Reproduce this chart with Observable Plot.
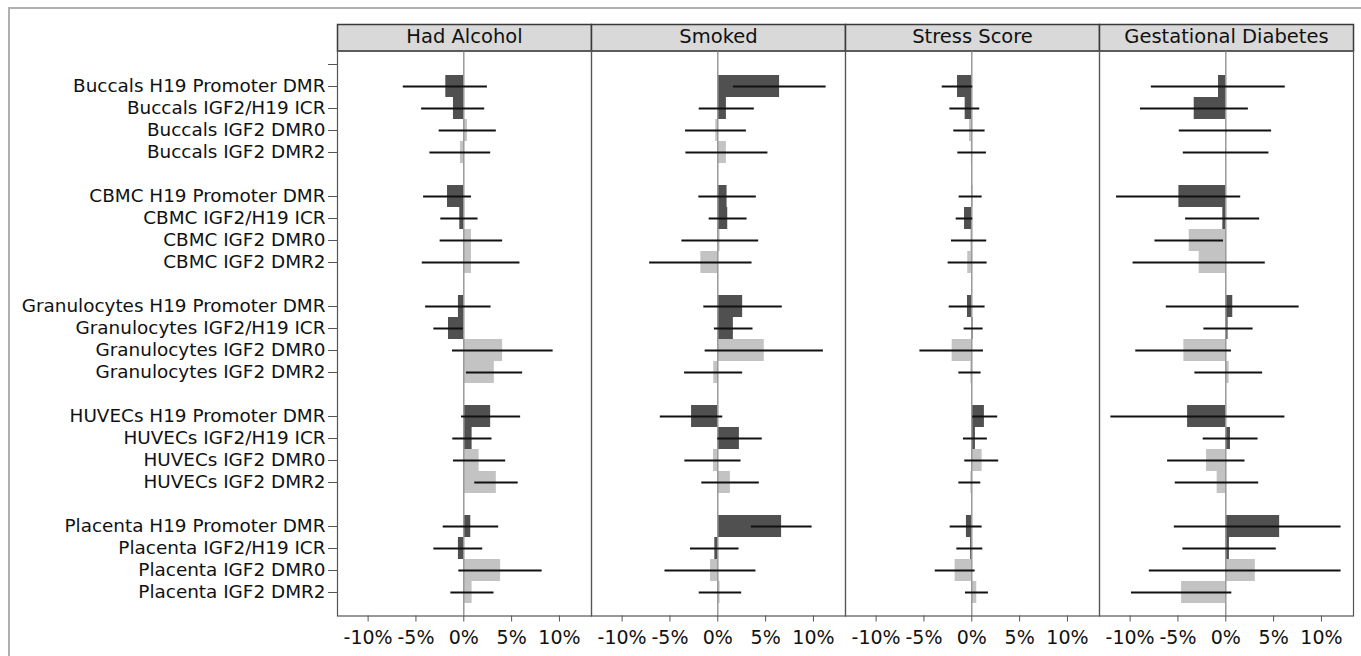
<!DOCTYPE html>
<html>
<head>
<meta charset="utf-8">
<script src="https://cdn.jsdelivr.net/npm/d3@7"></script>
<script src="https://cdn.jsdelivr.net/npm/@observablehq/plot@0.6"></script>
<style>
  html, body { margin: 0; padding: 0; background: #fff; }
  #wrap { position: relative; width: 1361px; height: 656px; overflow: hidden; }
  #border { position: absolute; left: 8px; top: 7px; right: -10px; bottom: -10px;
            border-top: 2px solid #b0b0b0; border-left: 2px solid #b0b0b0; }
  #chart { position: absolute; left: 0; top: 0; }
</style>
</head>
<body>
<div id="wrap"><div id="border"></div><div id="chart"></div></div>
<script>
// ---- data ----
const panels = ["Had Alcohol", "Smoked", "Stress Score", "Gestational Diabetes"];
const tissues = ["Buccals", "CBMC", "Granulocytes", "HUVECs", "Placenta"];
const regions = ["H19 Promoter DMR", "IGF2/H19 ICR", "IGF2 DMR0", "IGF2 DMR2"];
const darkRegions = ["H19 Promoter DMR", "IGF2/H19 ICR"];
const xTicks = [-10, -5, 0, 5, 10];

const alcoholEst = [-1.88,-1.08,0.38,-0.35, -1.70,-0.42,0.80,0.80, -0.56,-1.60,4.06,3.19, 2.81,0.87,1.60,3.40, 0.73,-0.56,3.85,0.87];
const alcoholLo  = [-6.32,-4.41,-2.57,-3.54, -4.20,-2.40,-2.47,-4.34, -3.99,-3.13,-1.18,0.28, -0.24,-1.15,-1.08,1.15, -2.15,-3.13,-0.52,-1.35];
const alcoholHi  = [2.47,2.19,3.40,2.81, 0.80,1.49,4.06,5.87, 2.85,-0.05,9.34,6.15, 5.94,2.95,4.38,5.69, 3.65,1.98,8.19,3.16];

const smokedEst = [6.46,0.90,-0.21,0.90, 0.97,1.04,0.24,-1.77, 2.60,1.63,4.86,-0.42, -2.74,2.26,-0.45,1.32, 6.67,-0.31,-0.76,0.24];
const smokedLo  = [1.63,-1.94,-3.37,-3.33, -1.98,-0.90,-3.75,-7.12, -1.46,-0.35,-1.32,-3.47, -6.01,0.00,-3.44,-1.67, 3.51,-2.85,-5.52,-1.94];
const smokedHi  = [11.32,3.82,2.99,5.24, 4.03,3.06,4.27,3.58, 6.74,3.68,11.04,2.60, 0.52,4.65,2.43,4.34, 9.86,2.22,3.99,2.50];

const stressEst = [-1.49,-0.69,-0.24,-0.05, 0.10,-0.76,-0.10,-0.42, -0.45,0.14,-2.05,-0.10, 1.32,0.38,1.08,-0.10, -0.56,-0.12,-1.74,0.52];
const stressLo  = [-3.09,-2.29,-1.88,-1.46, -1.32,-1.63,-2.12,-2.47, -2.36,-0.80,-5.42,-1.35, 0.10,-0.87,-0.73,-1.35, -2.26,-1.56,-3.82,-0.66];
const stressHi  = [0.10,0.83,1.39,1.53, 1.08,0.10,1.56,1.60, 1.39,1.18,1.22,0.97, 2.71,1.63,2.81,0.94, 1.08,1.15,0.35,1.74];

const gdmEst = [-0.76,-3.30,0,0, -4.90,-0.31,-3.82,-2.78, 0.73,0.24,-4.38,0.35, -3.99,0.49,-2.01,-0.90, 5.63,0.38,3.09,-4.62];
const gdmLo  = [-7.78,-8.92,-4.86,-4.44, -11.42,-4.20,-7.40,-9.69, -6.22,-2.29,-9.41,-3.23, -12.01,-2.36,-6.08,-5.28, -5.38,-4.48,-7.99,-9.86];
const gdmHi  = [6.22,2.36,4.79,4.51, 1.56,3.54,-0.24,4.13, 7.67,2.85,0.59,3.85, 6.18,3.37,2.01,3.44, 12.05,5.28,12.05,0.63];

// ---- build table ----
const series = [
  [alcoholEst, alcoholLo, alcoholHi],
  [smokedEst, smokedLo, smokedHi],
  [stressEst, stressLo, stressHi],
  [gdmEst, gdmLo, gdmHi]
];
const labels = [];
const yDomain = [];
tissues.forEach((t, ti) => {
  yDomain.push(" ".repeat(ti)); // blank spacer row before each group
  regions.forEach(r => { labels.push(t + " " + r); yDomain.push(t + " " + r); });
});
const labelRegion = labels.map((_, i) => regions[i % regions.length]);
const rows = [];
panels.forEach((p, pi) => {
  const [est, lo, hi] = series[pi];
  labels.forEach((lab, i) => {
    rows.push({panel: p, row: lab, region: labelRegion[i], est: est[i], lo: lo[i], hi: hi[i]});
  });
});
const yTickValues = [yDomain[0], ...labels];

const DARK = "#505050", LIGHT = "#c3c3c3";
const H = 656, MT = 50.5, MB = 40.5;
const frameH = H - MT - MB;

const chart = Plot.plot({
  width: 1361,
  height: H,
  marginLeft: 336,
  marginRight: 7,
  marginTop: MT,
  marginBottom: MB,
  style: {fontFamily: "DejaVu Sans", fontSize: "18px", color: "#111", background: "transparent"},
  fx: {domain: panels, padding: 0, axis: null},
  x: {domain: [-13.2, 13.35], axis: null},
  y: {domain: yDomain, padding: 0, insetBottom: 11, axis: null},
  color: {type: "identity"},
  marks: [
    // header strips
    Plot.frame({fill: "#d9d9d9", stroke: "#3a3a3a", strokeWidth: 1.5, insetTop: -26.5, insetBottom: frameH}),
    Plot.text(panels, {fx: d => d, text: d => d, frameAnchor: "top", lineAnchor: "middle", dy: -13.8, fontSize: 19.5, fill: "#111"}),
    // bars
    Plot.barX(rows, {fx: "panel", y: "row", x: "est",
      fill: d => darkRegions.includes(d.region) ? DARK : LIGHT}),
    // zero line
    Plot.ruleX([0], {stroke: "#999", strokeWidth: 1.5}),
    // CIs
    Plot.ruleY(rows, {fx: "panel", y: "row", x1: "lo", x2: "hi", stroke: "#111", strokeWidth: 2}),
    // panel frames
    Plot.frame({stroke: "#555", strokeWidth: 1.2}),
    // axes
    Plot.axisY({ticks: yTickValues, tickSize: 9, tickPadding: 3, fontSize: 18.4, stroke: "#555", fill: "#111", label: null}),
    Plot.axisX({ticks: xTicks, tickFormat: d => d + "%", tickSize: 6, tickPadding: 8, fontSize: 19, stroke: "#555", fill: "#111", label: null})
  ]
});
document.getElementById("chart").appendChild(chart);
</script>
</body>
</html>
